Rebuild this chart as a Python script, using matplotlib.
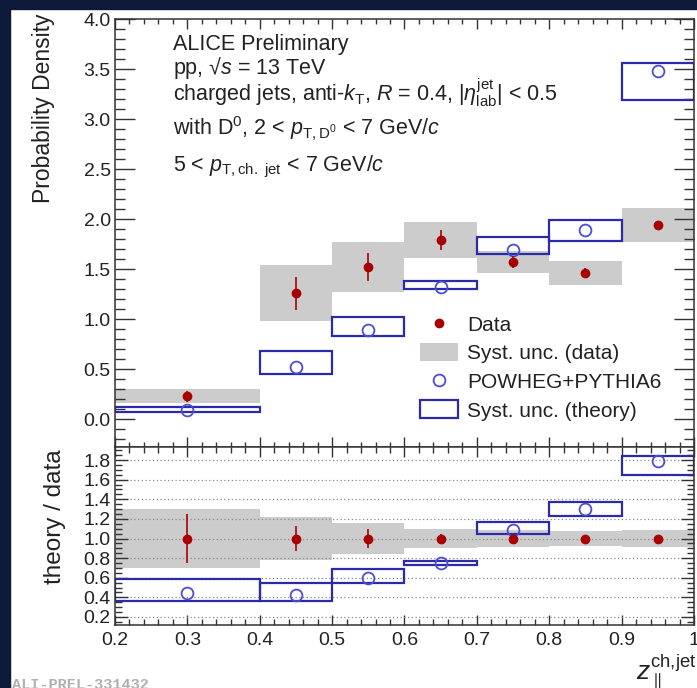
import numpy as np
import matplotlib
matplotlib.use("Agg")
import matplotlib.pyplot as plt
from matplotlib.patches import Patch, Rectangle
from matplotlib.lines import Line2D
from matplotlib.ticker import FixedLocator, FixedFormatter, MultipleLocator

plt.rcParams["font.family"] = ["Liberation Sans", "DejaVu Sans"]
plt.rcParams["mathtext.fontset"] = "custom"
plt.rcParams["mathtext.rm"] = "Liberation Sans"
plt.rcParams["mathtext.it"] = "Liberation Sans:italic"
plt.rcParams["mathtext.bf"] = "Liberation Sans:bold"

# ── bins (z_par^ch,jet) ─────────────────────────────────────
BIN_LO = [0.2, 0.4, 0.5, 0.6, 0.7, 0.8, 0.9]
BIN_HI = [0.4, 0.5, 0.6, 0.7, 0.8, 0.9, 1.0]
BIN_CENTER = [0.3, 0.45, 0.55, 0.65, 0.75, 0.85, 0.95]

# ── top panel: probability density ──────────────────────────
DATA_Y = [0.23, 1.26, 1.52, 1.79, 1.57, 1.46, 1.94]
DATA_STAT = [0.055, 0.165, 0.14, 0.10, 0.06, 0.05, 0.04]
DATA_SYS = [0.07, 0.28, 0.25, 0.18, 0.11, 0.12, 0.17]

THEORY_Y = [0.09, 0.52, 0.89, 1.32, 1.69, 1.89, 3.48]
THEORY_LO = [0.07, 0.45, 0.83, 1.30, 1.65, 1.78, 3.19]
THEORY_HI = [0.12, 0.68, 1.02, 1.38, 1.82, 1.99, 3.56]

# ── bottom panel: theory / data ─────────────────────────────
RATIO_DATA = [1.0, 1.0, 1.0, 1.0, 1.0, 1.0, 1.0]
RATIO_STAT = [0.25, 0.13, 0.10, 0.05, 0.03, 0.02, 0.02]
RATIO_SYS = [0.30, 0.22, 0.16, 0.10, 0.085, 0.08, 0.085]

RATIO_THEORY = [0.44, 0.427, 0.60, 0.747, 1.087, 1.30, 1.79]
RATIO_THEORY_LO = [0.363, 0.363, 0.55, 0.73, 1.05, 1.226, 1.647]
RATIO_THEORY_HI = [0.59, 0.543, 0.686, 0.774, 1.17, 1.37, 1.84]

X_TICKS = [0.2, 0.3, 0.4, 0.5, 0.6, 0.7, 0.8, 0.9, 1.0]
X_TICK_LABELS = ["0.2", "0.3", "0.4", "0.5", "0.6", "0.7", "0.8", "0.9", "1"]
Y_TICKS_TOP = [0.0, 0.5, 1.0, 1.5, 2.0, 2.5, 3.0, 3.5, 4.0]
Y_TICK_LABELS_TOP = ["0.0", "0.5", "1.0", "1.5", "2.0", "2.5", "3.0", "3.5", "4.0"]
Y_TICKS_RATIO = [0.2, 0.4, 0.6, 0.8, 1.0, 1.2, 1.4, 1.6, 1.8]
Y_TICK_LABELS_RATIO = ["0.2", "0.4", "0.6", "0.8", "1.0", "1.2", "1.4", "1.6", "1.8"]

LEGEND_LABELS = ["Data", "Syst. unc. (data)", "POWHEG+PYTHIA6", "Syst. unc. (theory)"]

INFO_LINES = [
    "ALICE Preliminary",
    "pp, \u221a$s$ = 13 TeV",
    r"charged jets, anti-$k_{\mathrm{T}}$, $R$ = 0.4, $|\eta^{\mathrm{jet}}_{\mathrm{lab}}|$ < 0.5",
    r"with D$^{0}$, 2 < $p_{\mathrm{T,D^{0}}}$ < 7 GeV/$c$",
    r"5 < $p_{\mathrm{T,ch.\ jet}}$ < 7 GeV/$c$",
]
INFO_Y = [0.927, 0.871, 0.809, 0.727, 0.645]

RED = "#a80000"
BLUE = "#2a2aaa"
BLUE_MARKER = "#4c4cd8"
GREY = "#cccccc"
NAVY = "#0e1838"
W, H = 697, 688


def style_axis(ax, xmaj, xmin, ymaj, ymin):
    ax.tick_params(which="both", direction="in", top=True, right=True,
                   width=1.0, colors="#333333", labelsize=14, labelcolor="#222222")
    ax.tick_params(axis="x", which="major", length=xmaj, pad=5)
    ax.tick_params(axis="x", which="minor", length=xmin)
    ax.tick_params(axis="y", which="major", length=ymaj, pad=3)
    ax.tick_params(axis="y", which="minor", length=ymin)
    for s in ax.spines.values():
        s.set_linewidth(1.1)
        s.set_color("#333333")
    ax.set_xlim(0.2, 1.0)
    ax.xaxis.set_major_locator(FixedLocator(X_TICKS))
    ax.xaxis.set_major_formatter(FixedFormatter(X_TICK_LABELS))
    ax.xaxis.set_minor_locator(MultipleLocator(0.02))


def draw():
    fig = plt.figure(figsize=(W / 100, H / 100), dpi=100)
    fig.patch.set_facecolor("white")
    fig.patches.append(Rectangle((0, 0), 10 / W, 1, transform=fig.transFigure,
                                 color=NAVY, zorder=-1))
    fig.patches.append(Rectangle((0, 1 - 9 / H), 1, 9 / H, transform=fig.transFigure,
                                 color=NAVY, zorder=-1))

    width = np.subtract(BIN_HI, BIN_LO)

    # ── top panel ───────────────────────────────────────────
    ax1 = fig.add_axes([115 / W, 1 - 447 / H, 579 / W, 428 / H])
    style_axis(ax1, 7.5, 3.8, 14.5, 7.2)
    ax1.set_ylim(-0.28, 4.0)
    ax1.yaxis.set_major_locator(FixedLocator(Y_TICKS_TOP))
    ax1.yaxis.set_major_formatter(FixedFormatter(Y_TICK_LABELS_TOP))
    ax1.yaxis.set_minor_locator(MultipleLocator(0.1))
    ax1.tick_params(labelbottom=False)

    sys_lo = np.subtract(DATA_Y, DATA_SYS)
    ax1.bar(BIN_LO, 2 * np.array(DATA_SYS), width=width, bottom=sys_lo,
            align="edge", color=GREY, lw=0, zorder=1)
    ax1.bar(BIN_LO, np.subtract(THEORY_HI, THEORY_LO), width=width, bottom=THEORY_LO,
            align="edge", fill=False, edgecolor=BLUE, lw=1.6, zorder=2)
    ax1.plot(BIN_CENTER, THEORY_Y, "o", mfc="none", mec=BLUE_MARKER, mew=1.3, ms=8.5, zorder=3)
    ax1.errorbar(BIN_CENTER, DATA_Y, yerr=DATA_STAT, fmt="o", color=RED, ms=6,
                 elinewidth=1.2, capsize=0, zorder=4)

    for txt, yy in zip(INFO_LINES, INFO_Y):
        ax1.text(0.100, yy, txt, transform=ax1.transAxes, fontsize=15.5,
                 color="#222222", va="baseline", ha="left")

    handles = [
        Line2D([], [], marker="o", ls="none", color=RED, ms=6),
        Patch(facecolor=GREY, edgecolor="none"),
        Line2D([], [], marker="o", ls="none", mfc="none", mec=BLUE_MARKER, mew=1.3, ms=8.5),
        Patch(facecolor="none", edgecolor=BLUE, lw=1.6),
    ]
    leg = ax1.legend(handles, LEGEND_LABELS, loc="upper left", bbox_to_anchor=(0.527, 0.309),
                     frameon=False, fontsize=15, handlelength=1.83, handleheight=0.96,
                     handletextpad=0.43, labelspacing=0.4, borderpad=0, borderaxespad=0)
    for t in leg.get_texts():
        t.set_color("#222222")

    ax1.text(-0.123, 1.014, "Probability Density", transform=ax1.transAxes, rotation=90,
             fontsize=16.5, ha="center", va="top", color="#222222")

    # ── bottom panel ────────────────────────────────────────
    ax2 = fig.add_axes([115 / W, 1 - 625 / H, 579 / W, 178 / H])
    style_axis(ax2, 7.5, 4.3, 9.5, 5.0)
    ax2.set_ylim(0.118, 1.933)
    ax2.yaxis.set_major_locator(FixedLocator(Y_TICKS_RATIO))
    ax2.yaxis.set_major_formatter(FixedFormatter(Y_TICK_LABELS_RATIO))
    ax2.yaxis.set_minor_locator(MultipleLocator(0.05))
    ax2.set_axisbelow("line")
    ax2.yaxis.grid(True, which="major", ls=(0, (1, 2)), color="#888888", lw=0.9)

    rsys_lo = np.subtract(RATIO_DATA, RATIO_SYS)
    ax2.bar(BIN_LO, 2 * np.array(RATIO_SYS), width=width, bottom=rsys_lo,
            align="edge", color=GREY, lw=0, zorder=1)
    ax2.bar(BIN_LO, np.subtract(RATIO_THEORY_HI, RATIO_THEORY_LO), width=width,
            bottom=RATIO_THEORY_LO, align="edge", fill=False, edgecolor=BLUE, lw=1.6, zorder=2)
    ax2.plot(BIN_CENTER, RATIO_THEORY, "o", mfc="none", mec=BLUE_MARKER, mew=1.3, ms=8.5, zorder=3)
    ax2.errorbar(BIN_CENTER, RATIO_DATA, yerr=RATIO_STAT, fmt="o", color=RED, ms=6,
                 elinewidth=1.2, capsize=0, zorder=4)

    ax2.text(-0.103, 0.985, "theory / data", transform=ax2.transAxes, rotation=90,
             fontsize=17.5, ha="center", va="top", color="#222222")

    fig.text(1.0, 1 - 680 / H, r"$z_{\parallel}^{\mathrm{ch{,}jet}}$", fontsize=19,
             ha="right", va="baseline", color="#222222")
    fig.text(12 / W, 1 - 678 / H, "ALI-PREL-331432", fontsize=11, family="Liberation Mono",
             weight="bold", color="#b0b0b0", ha="left", va="top")

    fig.savefig("out.png", dpi=100)
    plt.close(fig)


if __name__ == "__main__":
    draw()
